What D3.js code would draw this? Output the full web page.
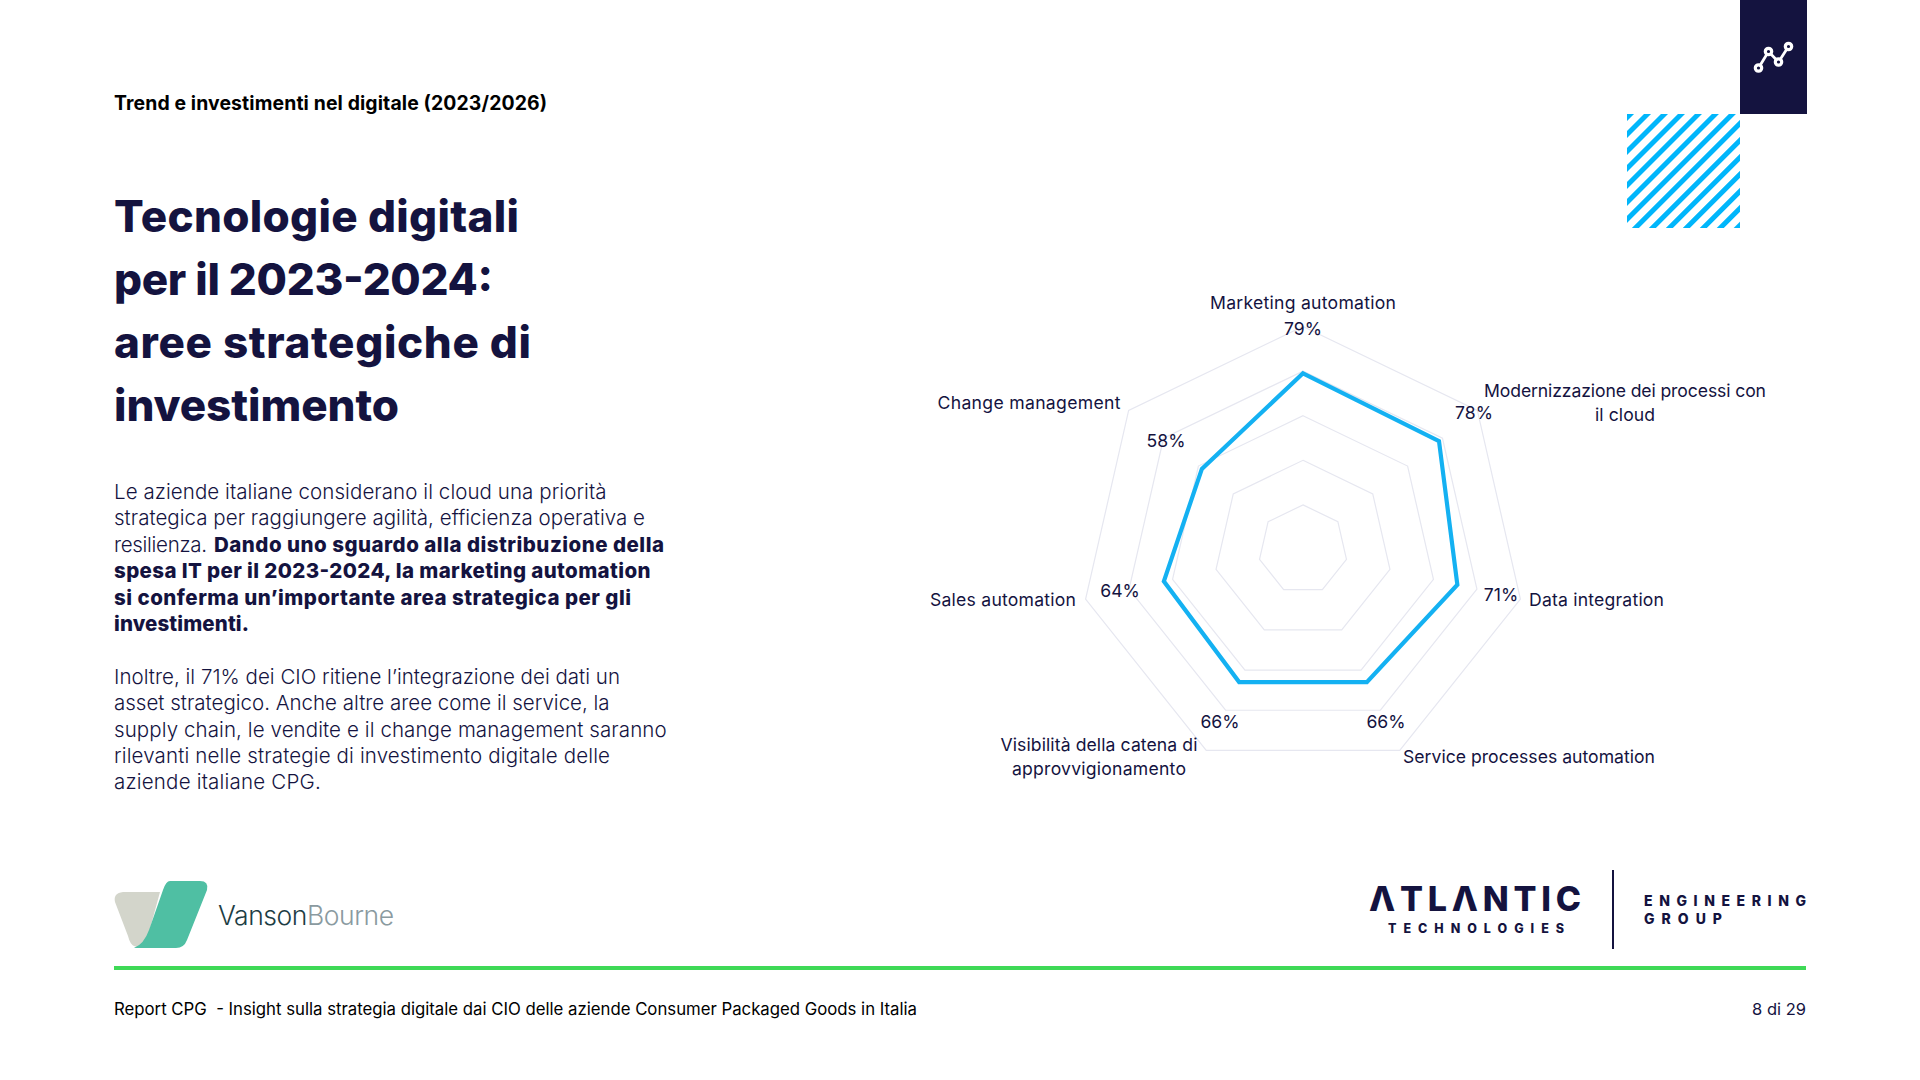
<!DOCTYPE html>
<html><head><meta charset="utf-8">
<style>html,body{margin:0;padding:0;background:#fff;}svg{display:block;}text{font-family:Inter,"Noto Sans",sans-serif;fill:#14133f;}</style>
<script src="https://cdn.jsdelivr.net/npm/d3@7"></script></head><body><div id="c"></div>
<script>
const categories=[["Marketing automation"],["Modernizzazione dei processi con","il cloud"],["Data integration"],["Service processes automation"],["Visibilità della catena di","approvvigionamento"],["Sales automation"],["Change management"]];
const values=[79,78,71,66,66,64,58];
const valueLabels=["79%","78%","71%","66%","66%","64%","58%"];
const ringLevels=[20,40,60,80,100];
const W=1920,H=1080,cx=1303,cy=549.5,R=223;
const valuePos=[[1303,334.5],[1474,418.5],[1501,600.5],[1386,728],[1220,728],[1120,596.5],[1166,446.5]];
const catPos=[[1303,309],[1625,397],[1529,606],[1403,763],[1099,751],[1003,605.5],[1029,408.5]];
const catWidth=[[186],[282,60],[135],[252],[197,174],[146],[183]];
const catAnchor=["middle","middle","start","start","middle","middle","middle"];
const svg=d3.select("#c").append("svg").attr("width",W).attr("height",H);
const r=d3.scaleLinear().domain([0,100]).range([0,R]);
const ang=i=>i*2*Math.PI/categories.length;
const pt=(v,i)=>[cx+r(v)*Math.sin(ang(i)),cy-r(v)*Math.cos(ang(i))];
const line=d3.line();
svg.append("g").selectAll("path").data(ringLevels).join("path")
 .attr("d",l=>line(categories.map((_,i)=>pt(l,i)))+"Z").attr("fill","none").attr("stroke","#e6e7f0").attr("stroke-width",1.2);
svg.append("path").attr("d",line(values.map((v,i)=>pt(v,i)))+"Z").attr("fill","none").attr("stroke","#14b1f2").attr("stroke-width",4.2).attr("stroke-linejoin","miter");
const g=svg.append("g").style("font-size","17.6px");
g.selectAll("text.v").data(valueLabels).join("text").attr("class","v").attr("text-anchor","middle")
 .attr("x",(d,i)=>valuePos[i][0]).attr("y",(d,i)=>valuePos[i][1]).text(d=>d);
categories.forEach((c,i)=>c.forEach((t,j)=>g.append("text").attr("text-anchor",catAnchor[i]).attr("x",catPos[i][0]).attr("y",catPos[i][1]+j*23.5).attr("textLength",catWidth[i][j]).text(t)));

svg.append("text").attr("x",114).attr("y",110).attr("textLength",433).style("font-size","19.4px").style("font-weight",700).style("fill","#000").text("Trend e investimenti nel digitale (2023/2026)");
const titleLines=["Tecnologie digitali","per il 2023-2024:","aree strategiche di","investimento"];
const titleWidths=[405,379,417,285];
svg.append("g").selectAll("text").data(titleLines).join("text").attr("x",114).attr("y",(d,i)=>232+i*63).attr("textLength",(d,i)=>titleWidths[i]).style("font-size","44px").style("font-weight",800).text(d=>d);
const bodyLines=[
 [["Le aziende italiane considerano il cloud una priorità",0,0,492.5]],
 [["strategica per raggiungere agilità, efficienza operativa e",0,0,531]],
 [["resilienza.",0,0,93],["Dando uno sguardo alla distribuzione della",1,100,450]],
 [["spesa IT per il 2023-2024, la marketing automation",1,0,536.5]],
 [["si conferma un’importante area strategica per gli",1,0,517]],
 [["investimenti.",1,0,135]],
 [],
 [["Inoltre, il 71% dei CIO ritiene l’integrazione dei dati un",0,0,506]],
 [["asset strategico. Anche altre aree come il service, la",0,0,495.6]],
 [["supply chain, le vendite e il change management saranno",0,0,552.6]],
 [["rilevanti nelle strategie di investimento digitale delle",0,0,496]],
 [["aziende italiane CPG.",0,0,206.7]]];
bodyLines.forEach((l,i)=>l.forEach(s=>svg.append("text").attr("x",114+s[2]).attr("y",499+i*26.4).attr("textLength",s[3]).style("font-size","20.5px").style("font-weight",s[1]?800:300).text(s[0])));

svg.append("rect").attr("x",1740).attr("y",0).attr("width",67).attr("height",114).attr("fill","#14133f");
const iconPts=[[1758.5,68],[1768.5,51.5],[1778.5,62],[1788.5,46.5]];
svg.append("path").attr("d",line(iconPts)).attr("fill","none").attr("stroke","#fff").attr("stroke-width",2.8);
svg.append("g").selectAll("circle").data(iconPts).join("circle").attr("cx",d=>d[0]).attr("cy",d=>d[1]).attr("r",3.2).attr("fill","#14133f").attr("stroke","#fff").attr("stroke-width",3.2);
const defs=svg.append("defs");
const pat=defs.append("pattern").attr("id","st").attr("patternUnits","userSpaceOnUse").attr("width",12).attr("height",24).attr("patternTransform","translate(1627,114) rotate(45)");
pat.append("rect").attr("width",5).attr("height",24).attr("fill","#00b6fb");
svg.append("rect").attr("x",1627).attr("y",114).attr("width",113).attr("height",114).attr("fill","url(#st)");

svg.append("path").attr("d","M123 892 H160 L145 947 Q138 948 134 946 Q130 944 128 936 L115 902 Q113 893 123 892Z").attr("fill","#d3d5cb");
svg.append("path").attr("d","M170 881 H200 Q209 881 207 890 L187 940 Q184 948 176 948 H134 Q144 944 149 930 L163 890 Q166 881 170 881Z").attr("fill","#4fbfa3");
svg.append("text").attr("x",218).attr("y",925).attr("textLength",176).style("font-size","26.5px").style("font-weight",300).style("fill","#1d3d44").text("Vanson").append("tspan").style("fill","#8a9a9f").text("Bourne");
const logo=svg.append("g").style("font-weight",800);
logo.append("text").attr("x",1369).attr("y",911).style("font-size","34px").attr("textLength",212).text("ΛTLΛNTIC");
logo.append("text").attr("x",1388).attr("y",933).style("font-size","12.5px").attr("textLength",176).text("TECHNOLOGIES");
logo.append("text").attr("x",1644).attr("y",906).style("font-size","14px").attr("textLength",162).text("ENGINEERING");
logo.append("text").attr("x",1644).attr("y",924).style("font-size","14px").attr("textLength",78).text("GROUP");
svg.append("rect").attr("x",1612).attr("y",870).attr("width",2).attr("height",79).attr("fill","#14133f");
svg.append("rect").attr("x",114).attr("y",966).attr("width",1692).attr("height",4).attr("fill","#3ed956");
svg.append("text").attr("x",114).attr("y",1015).attr("textLength",803).style("font-size","16.8px").style("fill","#000").attr("xml:space","preserve").text("Report CPG  - Insight sulla strategia digitale dai CIO delle aziende Consumer Packaged Goods in Italia");
svg.append("text").attr("x",1806).attr("y",1015).attr("text-anchor","end").style("font-size","16.5px").text("8 di 29");
</script></body></html>
